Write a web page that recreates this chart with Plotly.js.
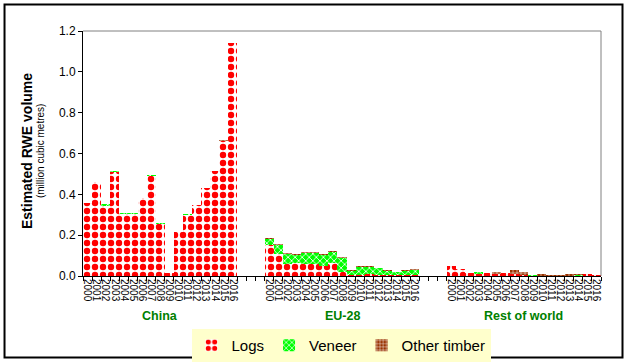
<!DOCTYPE html>
<html>
<head>
<meta charset="utf-8">
<script src="https://cdn.plot.ly/plotly-3.0.1.min.js"></script>
<style>
  html, body { margin: 0; padding: 0; background: #fff; }
  #chart { width: 628px; height: 362px; }
</style>
</head>
<body>
<div id="chart"></div>
<script>
// ---- data ----
const years = ["2000","2001","2002","2003","2004","2005","2006","2007","2008","2009","2010","2011","2012","2013","2014","2015","2016"];
const regions = ["China", "EU-28", "Rest of world"];

const chinaLogs    = [0.36, 0.46, 0.345, 0.51, 0.305, 0.305, 0.38, 0.49, 0.255, 0.015, 0.214, 0.30, 0.35, 0.43, 0.515, 0.66, 1.14];
const chinaVeneer  = [0.0, 0.0, 0.007, 0.005, 0.004, 0.004, 0.0, 0.006, 0.006, 0.0, 0.0, 0.005, 0.0, 0.0, 0.0, 0.0, 0.0];
const chinaOther   = [0.0, 0.0, 0.0, 0.0, 0.0, 0.0, 0.0, 0.0, 0.0, 0.0, 0.0, 0.0, 0.0, 0.0, 0.0, 0.006, 0.0];

const euLogs   = [0.15, 0.106, 0.06, 0.062, 0.059, 0.058, 0.049, 0.062, 0.021, 0.005, 0.005, 0.01, 0.005, 0.004, 0.003, 0.004, 0.005];
const euVeneer = [0.03, 0.045, 0.048, 0.043, 0.056, 0.054, 0.053, 0.056, 0.067, 0.02, 0.04, 0.035, 0.032, 0.022, 0.016, 0.02, 0.022];
const euOther  = [0.005, 0.005, 0.004, 0.004, 0.004, 0.004, 0.004, 0.004, 0.004, 0.004, 0.004, 0.004, 0.004, 0.003, 0.002, 0.005, 0.006];

const rowLogs   = [0.05, 0.035, 0.017, 0.012, 0.017, 0.012, 0.017, 0.012, 0.003, 0.0, 0.002, 0.0, 0.0, 0.0, 0.0, 0.008, 0.007];
const rowVeneer = [0.0, 0.0, 0.0, 0.006, 0.0, 0.0, 0.0, 0.0, 0.0, 0.004, 0.0, 0.002, 0.0, 0.0, 0.003, 0.0, 0.0];
const rowOther  = [0.0, 0.0, 0.0, 0.0, 0.0, 0.006, 0.0, 0.017, 0.015, 0.0, 0.008, 0.004, 0.007, 0.009, 0.007, 0.0, 0.0];

const yTicks = [0, 0.2, 0.4, 0.6, 0.8, 1.0, 1.2];

// ---- build ----
const GROUP_STRIDE = years.length + 3;   // 17 years + 3 empty slots
const xs = [], tickText = [];
regions.forEach((r, g) => years.forEach((y, i) => { xs.push(g * GROUP_STRIDE + i); tickText.push(y); }));
const totalSlots = GROUP_STRIDE * 2 + years.length;
const boundaries = [];
for (let k = 0; k <= totalSlots; k++) boundaries.push(k - 0.5);

const logs = chinaLogs.concat(euLogs, rowLogs);
const veneer = chinaVeneer.concat(euVeneer, rowVeneer);
const other = chinaOther.concat(euOther, rowOther);

function bar(name, vals, pattern) {
  return {
    type: 'bar', name: name, x: xs, y: vals, width: 1,
    marker: { color: pattern.bgcolor, line: { width: 0 }, pattern: pattern },
    hoverinfo: 'x+y+name'
  };
}

const traces = [
  bar('Logs', logs, { shape: '.', fgcolor: '#FF0000', bgcolor: '#FFFFFF', size: 8, solidity: 0.5, fillmode: 'replace' }),
  bar('Veneer', veneer, { shape: 'x', fgcolor: '#FFFFFF', bgcolor: '#00FF00', size: 5, solidity: 0.3, fillmode: 'replace' }),
  bar('Other timber', other, { shape: '+', fgcolor: '#FFFFFF', bgcolor: '#993300', size: 4, solidity: 0.25, fillmode: 'replace' })
];

const annotations = regions.map((r, g) => ({
  text: '<b>' + r + '</b>', x: g * GROUP_STRIDE + (years.length - 1) / 2, xref: 'x',
  y: 0, yref: 'paper', yshift: -40, showarrow: false, xanchor: 'center', yanchor: 'middle',
  font: { family: 'Arial, Liberation Sans, sans-serif', size: 12.5, color: '#008000' }
}));
annotations.push({
  text: '<b>Estimated RWE volume</b>', textangle: -90, x: 0, xref: 'paper', xshift: -56,
  y: 0.51, yref: 'paper', showarrow: false, xanchor: 'center', yanchor: 'middle',
  font: { family: 'Arial, Liberation Sans, sans-serif', size: 14, color: '#000' }
});
annotations.push({
  text: '(million cubic metres)', textangle: -90, x: 0, xref: 'paper', xshift: -43,
  y: 0.51, yref: 'paper', showarrow: false, xanchor: 'center', yanchor: 'middle',
  font: { family: 'Arial, Liberation Sans, sans-serif', size: 10, color: '#000' }
});

const layout = {
  width: 628, height: 362,
  margin: { l: 83, r: 27, t: 31, b: 86, pad: 0, autoexpand: false },
  paper_bgcolor: '#FFFFFF', plot_bgcolor: '#FFFFFF',
  barmode: 'stack', bargap: 0,
  font: { family: 'Arial, Liberation Sans, sans-serif', color: '#000' },
  showlegend: true,
  legend: {
    orientation: 'h', xref: 'container', yref: 'container',
    x: 0.543, xanchor: 'center', y: 0.0912, yanchor: 'top',
    bgcolor: '#FFFFCC', borderwidth: 0, font: { size: 15, color: '#000' },
    traceorder: 'normal', itemwidth: 30
  },
  xaxis: {
    range: [-0.5, totalSlots - 0.5], showgrid: false, zeroline: false, automargin: false,
    showline: true, linecolor: '#000', linewidth: 1,
    tickmode: 'array', tickvals: xs, ticktext: tickText, ticks: '',
    tickangle: 90, tickfont: { size: 10, color: '#000' },
    minor: { tickmode: 'array', tickvals: boundaries, ticks: 'outside', ticklen: 4, tickcolor: '#000', tickwidth: 1, showgrid: false },
    fixedrange: true
  },
  yaxis: {
    range: [0, 1.2], tickmode: 'array', tickvals: yTicks, tickformat: '.1f', automargin: false,
    showgrid: false, zeroline: false, showline: true, linecolor: '#000', linewidth: 1,
    ticks: 'outside', ticklen: 4, tickcolor: '#000', tickfont: { size: 12, color: '#000' },
    fixedrange: true
  },
  annotations: annotations,
  shapes: [
    { type: 'line', xref: 'paper', yref: 'paper', x0: 0, x1: 1, y0: 1, y1: 1, line: { color: '#808080', width: 1 } },
    { type: 'line', xref: 'paper', yref: 'paper', x0: 1, x1: 1, y0: 0, y1: 1, line: { color: '#808080', width: 1 } },
    { type: 'rect', xref: 'paper', yref: 'paper', x0: -0.1515, x1: 1.0415, y0: -0.3327, y1: 1.108, line: { color: '#000', width: 2 }, fillcolor: 'rgba(0,0,0,0)', layer: 'above' }
  ]
};

Plotly.newPlot('chart', traces, layout, { displayModeBar: false, staticPlot: true });
</script>
</body>
</html>
